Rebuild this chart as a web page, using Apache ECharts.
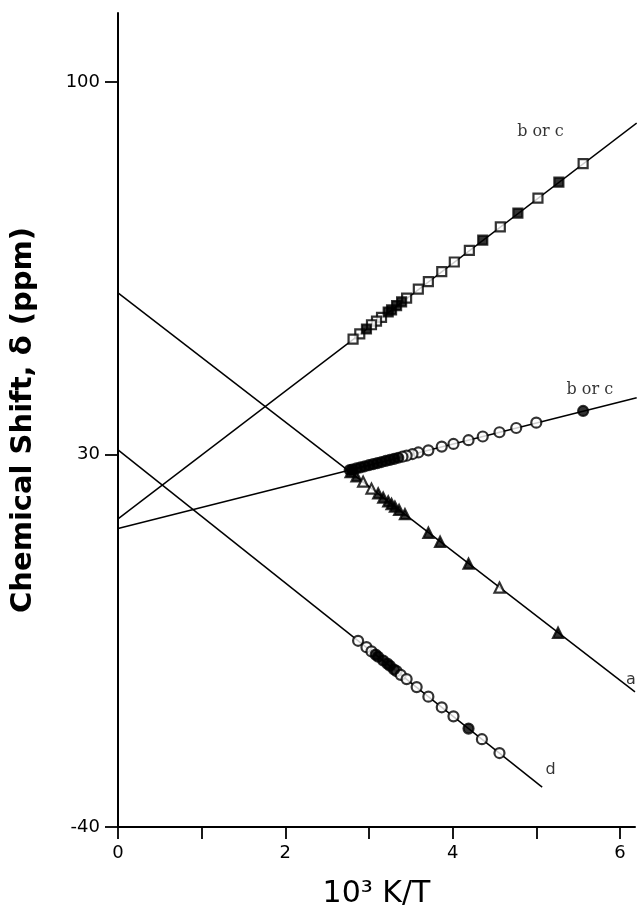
<!DOCTYPE html>
<html>
<head>
<meta charset="utf-8">
<script src="https://cdn.jsdelivr.net/npm/echarts@6/dist/echarts.min.js"></script>
<style>
  html, body { margin: 0; padding: 0; background: #fff; }
  #chart { width: 637px; height: 917px; }
</style>
</head>
<body>
<div id="chart"></div>
<script>
// ---- axis ticks ----
const xTickValues = [0, 1, 2, 3, 4, 5, 6];
const xLabelValues = [0, 2, 4, 6];
const yTickValues = [-40, 30, 100];

// ---- fitted lines (end points) ----
const lineUpperBC = [[0, 17.9], [6.2, 92.3]];
const lineLowerBC = [[0, 16.1], [6.2, 40.7]];
const lineA = [[0, 60.4], [6.18, -14.6]];
const lineD = [[0, 30.9], [5.07, -32.5]];

// ---- data points: upper "b or c" (squares) ----
const upperOpen = [[5.56, 84.7], [5.02, 78.2], [4.57, 72.8], [4.20, 68.4], [4.02, 66.2], [3.87, 64.4],
  [3.71, 62.5], [3.59, 61.1], [3.45, 59.4], [3.15, 55.8], [3.09, 55.1], [3.03, 54.4], [2.89, 52.7], [2.81, 51.7]];
const upperFilled = [[5.27, 81.2], [4.78, 75.4], [4.36, 70.3], [3.39, 58.7], [3.33, 58.0], [3.27, 57.2],
  [3.23, 56.8], [2.97, 53.6]];

// ---- lower "b or c" (circles) ----
const lowerOpen = [[5.00, 36.0], [4.76, 35.0], [4.56, 34.2], [4.36, 33.4], [4.19, 32.7], [4.01, 32.0],
  [3.87, 31.5], [3.71, 30.8], [3.59, 30.4], [3.52, 30.1], [3.45, 29.8], [3.40, 29.6]];
const lowerFilled = [[5.56, 38.2], [3.35, 29.4], [3.30, 29.2], [3.25, 29.0], [3.20, 28.8], [3.15, 28.6],
  [3.10, 28.4], [3.05, 28.2], [3.00, 28.0], [2.95, 27.8], [2.90, 27.6], [2.85, 27.4], [2.80, 27.2], [2.77, 27.1]];

// ---- a (triangles) ----
const aFilled = [[2.78, 26.7], [2.85, 25.9], [3.11, 22.7], [3.17, 21.9], [3.23, 21.2], [3.27, 20.7],
  [3.31, 20.2], [3.36, 19.6], [3.43, 18.8], [3.71, 15.3], [3.85, 13.6], [4.19, 9.5], [5.26, -3.5]];
const aOpen = [[2.93, 24.9], [3.03, 23.6], [4.56, 5.0]];

// ---- d (circles) ----
const dOpen = [[2.87, -5.0], [2.97, -6.2], [3.03, -7.0], [3.33, -10.7], [3.38, -11.4], [3.45, -12.2],
  [3.57, -13.7], [3.71, -15.5], [3.87, -17.5], [4.01, -19.2], [4.35, -23.5], [4.56, -26.1]];
const dFilled = [[3.08, -7.6], [3.11, -8.0], [3.17, -8.7], [3.22, -9.3], [3.25, -9.7], [3.30, -10.4], [4.19, -21.5]];

// ---- curve labels ----
const curveLabelText = ['b or c', 'b or c', 'a', 'd'];
const curveLabelAt = [[5.05, 90.6], [5.64, 42.2], [6.13, -12.4], [5.17, -29.3]];
const curveLabelFont = ['DejaVu Serif', 'DejaVu Serif', 'DejaVu Sans', 'DejaVu Sans'];

const chart = echarts.init(document.getElementById('chart'), null, { renderer: 'canvas' });

function fitLine(name, data) {
  return {
    name: name, type: 'line', data: data, symbol: 'none', silent: true,
    lineStyle: { color: '#000', width: 1.5 }, clip: true, z: 2
  };
}
function pts(name, data, symbol, filled, size) {
  return {
    name: name, type: 'scatter', data: data, symbol: symbol, symbolSize: size || 9,
    itemStyle: { color: filled ? '#000' : '#fff', borderColor: '#000', borderWidth: 2.2 },
    z: 3
  };
}

const option = {
  backgroundColor: '#fff',
  animation: false,
  grid: { left: 118, right: 2, top: 13, bottom: 90, containLabel: false },
  xAxis: {
    type: 'value', min: 0, max: 6.18,
    name: '10\u00B3 K/T', nameLocation: 'middle', nameGap: 52,
    nameTextStyle: { fontFamily: 'DejaVu Sans', fontSize: 30, color: '#000' },
    axisLine: { onZero: false, lineStyle: { color: '#000', width: 2 } },
    axisTick: { show: true, customValues: xTickValues, length: 12, inside: false, lineStyle: { color: '#000', width: 1.8 } },
    axisLabel: { customValues: xLabelValues, margin: 17, fontFamily: 'DejaVu Sans', fontSize: 18, color: '#000' },
    splitLine: { show: false }
  },
  yAxis: {
    type: 'value', min: -40, max: 113,
    name: 'Chemical Shift, \u03B4 (ppm)', nameLocation: 'middle', nameGap: 80, nameRotate: 90,
    nameTextStyle: { fontFamily: 'DejaVu Sans', fontWeight: 'bold', fontSize: 29, color: '#000' },
    axisLine: { onZero: false, lineStyle: { color: '#000', width: 2 } },
    axisTick: { show: true, customValues: yTickValues, length: 13, lineStyle: { color: '#000', width: 1.8 } },
    axisLabel: { customValues: yTickValues, margin: 18, fontFamily: 'DejaVu Sans', fontSize: 18, color: '#000' },
    splitLine: { show: false }
  },
  series: [
    fitLine('b or c (upper) fit', lineUpperBC),
    fitLine('b or c (lower) fit', lineLowerBC),
    fitLine('a fit', lineA),
    fitLine('d fit', lineD),
    pts('b or c (upper) open', upperOpen, 'rect', false, 9),
    pts('b or c (upper) filled', upperFilled, 'rect', true, 9),
    pts('b or c (lower) open', lowerOpen, 'circle', false, 10),
    pts('b or c (lower) filled', lowerFilled, 'circle', true, 10),
    pts('a filled', aFilled, 'triangle', true, 10),
    pts('a open', aOpen, 'triangle', false, 10),
    pts('d open', dOpen, 'circle', false, 10),
    pts('d filled', dFilled, 'circle', true, 10),
    {
      name: 'curve labels', type: 'scatter', silent: true, symbolSize: 1,
      itemStyle: { color: 'rgba(0,0,0,0)' },
      data: curveLabelAt.map((p, i) => ({
        value: p, name: curveLabelText[i],
        label: { fontFamily: curveLabelFont[i] }
      })),
      label: {
        show: true, position: 'inside', formatter: '{b}',
        fontSize: 16, color: '#000'
      },
      z: 4
    }
  ]
};
chart.setOption(option);
</script>
</body>
</html>
